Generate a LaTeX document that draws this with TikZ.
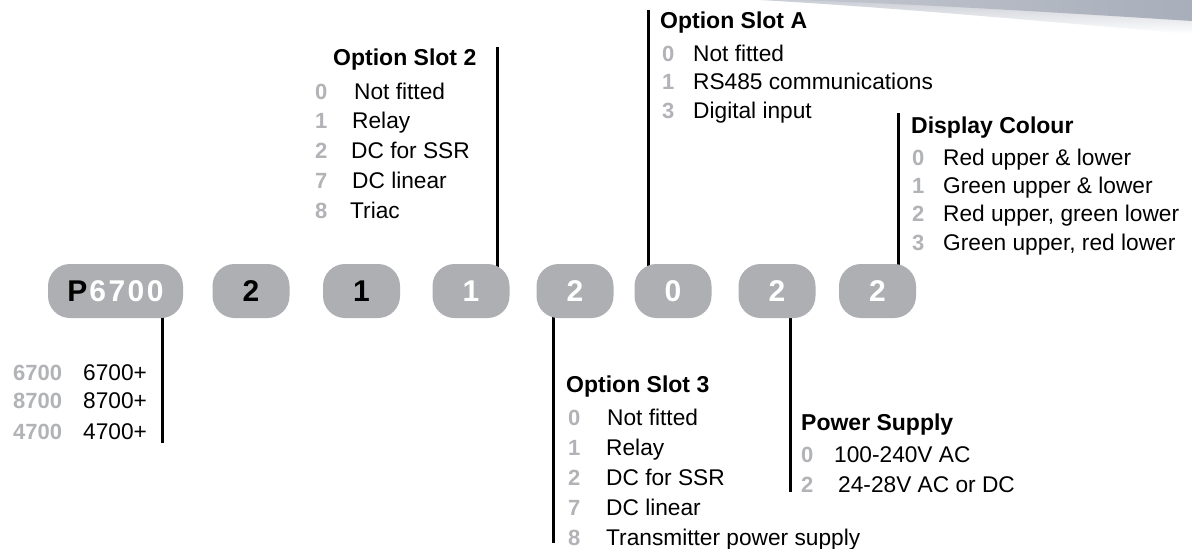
\documentclass[tikz,border=0pt]{standalone}
\usepackage{fontspec}
\setmainfont{Liberation Sans}
\usetikzlibrary{backgrounds}
\definecolor{pillgray}{RGB}{174,175,179}
\definecolor{numgray}{RGB}{178,179,182}
\definecolor{wedgegray}{RGB}{168,174,186}
\tikzset{
  pill/.style={fill=pillgray, rounded corners=22pt, minimum height=54pt, inner sep=0pt,
    font=\bfseries\fontsize{30}{30}\selectfont},
  conn/.style={line width=3pt, black},
  head/.style={anchor=base west, inner sep=0pt, font=\bfseries\fontsize{23}{23}\selectfont},
  item/.style={anchor=base west, inner sep=0pt, font=\fontsize{22.7}{23}\selectfont},
  num/.style={anchor=base west, inner sep=0pt, text=numgray, font=\bfseries\fontsize{22}{22}\selectfont},
}
\begin{document}
\begin{tikzpicture}[x=1pt,y=-1pt]
\path[use as bounding box] (0,0) rectangle (1192,549);
\begin{pgfonlayer}{background}
  \fill[white] (0,0) rectangle (1192,549);
\end{pgfonlayer}

% top-right grey wedge
\shade[top color=wedgegray!60, bottom color=white] (760,0) -- (1192,0) -- (1192,34) .. controls (1050,22) and (900,8) .. (760,0) -- cycle;
\shade[left color=wedgegray!70, right color=wedgegray] (790,0) -- (1192,0) -- (1192,21) .. controls (1050,12) and (900,3) .. (790,0) -- cycle;

% pills
\node[pill, minimum width=135pt] (p0) at (115.5,291) {P\kern2pt\textcolor{white}{6\kern2.5pt 7\kern2.5pt 0\kern2.5pt 0}};
\node[pill, minimum width=77pt] (p1) at (251,291) {2};
\node[pill, minimum width=77pt] (p2) at (361.5,291) {1};
\node[pill, minimum width=77pt, text=white] (p3) at (471,291) {1};
\node[pill, minimum width=77pt, text=white] (p4) at (575,291) {2};
\node[pill, minimum width=77pt, text=white] (p5) at (673,291) {0};
\node[pill, minimum width=77pt, text=white] (p6) at (777,291) {2};
\node[pill, minimum width=77pt, text=white] (p7) at (877.5,291) {2};

% connector ends
\coordinate (e0) at (162,443);
\coordinate (e3) at (497,47);
\coordinate (e4) at (553,543);
\coordinate (e5) at (648,10);
\coordinate (e6) at (790,492);
\coordinate (e7) at (898,113);

\begin{pgfonlayer}{background}
  \draw[conn] (p0.center -| e0) -- (e0);
  \draw[conn] (p3.center -| e3) -- (e3);
  \draw[conn] (p4.center -| e4) -- (e4);
  \draw[conn] (p5.center -| e5) -- (e5);
  \draw[conn] (p6.center -| e6) -- (e6);
  \draw[conn] (p7.center -| e7) -- (e7);
\end{pgfonlayer}

% Model
\foreach \k/\y [count=\i] in {6700/380, 8700/408.5, 4700/439}{
  \node[num] (mn\i) at (13,\y) {\k};
  \node[item] (mt\i) at (83,\y) {\k+};
}

% Option Slot 2
\node[head] (h2) at (333,65.5) {Option Slot 2};
\foreach \n/\t/\y/\x [count=\i] in {0/{Not fitted}/99/354, 1/{Relay}/128.5/352, 2/{DC for SSR}/158/351, 7/{DC linear}/188/352, 8/{Triac}/218/350}{
  \node[num] (s2n\i) at (315,\y) {\n};
  \node[item] (s2t\i) at (\x,\y) {\t};
}

% Option Slot A
\node[head] (hA) at (660,28.5) {Option Slot A};
\foreach \n/\t/\y [count=\i] in {0/{Not fitted}/61, 1/{RS485 communications}/89.5, 3/{Digital input}/118}{
  \node[num] (sAn\i) at (662,\y) {\n};
  \node[item] (sAt\i) at (693,\y) {\t};
}

% Display Colour
\node[head] (hD) at (911,133) {Display Colour};
\foreach \n/\t/\y [count=\i] in {0/{Red upper \& lower}/165.5, 1/{Green upper \& lower}/193.5, 2/{Red upper, green lower}/221.5, 3/{Green upper, red lower}/250}{
  \node[num] (sDn\i) at (912,\y) {\n};
  \node[item] (sDt\i) at (943,\y) {\t};
}

% Option Slot 3
\node[head] (h3) at (566,392) {Option Slot 3};
\foreach \n/\t/\y/\x [count=\i] in {0/{Not fitted}/425/607, 1/{Relay}/455/606, 2/{DC for SSR}/485/606, 7/{DC linear}/515/606, 8/{Transmitter power supply}/545/606}{
  \node[num] (s3n\i) at (568,\y) {\n};
  \node[item] (s3t\i) at (\x,\y) {\t};
}

% Power Supply
\node[head] (hP) at (801,430) {Power Supply};
\foreach \n/\t/\y/\x [count=\i] in {0/{100-240V AC}/462.5/834, 2/{24-28V AC or DC}/492/838}{
  \node[num] (sPn\i) at (801,\y) {\n};
  \node[item] (sPt\i) at (\x,\y) {\t};
}
\end{tikzpicture}
\end{document}
